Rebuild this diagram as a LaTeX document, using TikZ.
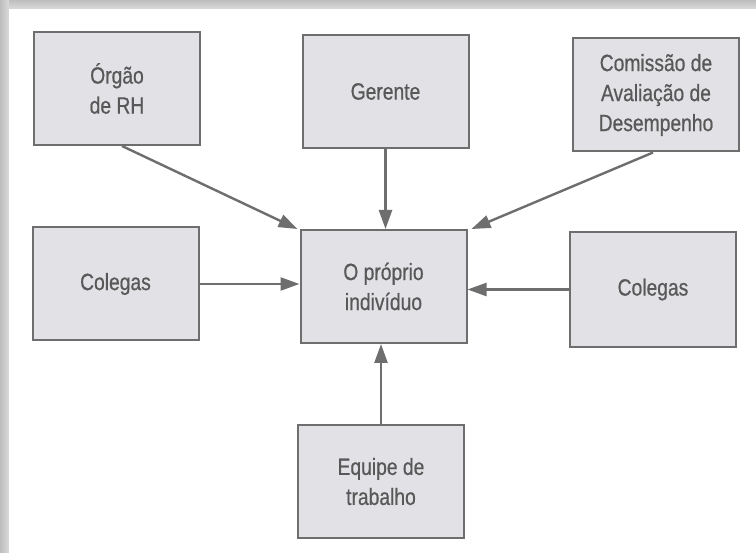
\documentclass[tikz,border=0pt]{standalone}
\usepackage{fontspec}
\setmainfont{Liberation Sans}[FakeStretch=0.82,FakeBold=0.6]
\usetikzlibrary{arrows.meta}
\definecolor{boxfill}{HTML}{E2E2E6}
\definecolor{boxline}{HTML}{6E6E6E}
\definecolor{txt}{HTML}{585858}
\definecolor{bandA}{HTML}{BEBEBE}
\definecolor{bandB}{HTML}{DADADA}
\begin{document}
\begin{tikzpicture}[x=1pt,y=-1pt,
  box/.style={draw=boxline,line width=2pt,fill=boxfill,rectangle,
    minimum width=166pt,minimum height=113pt,inner sep=0pt,
    align=center,text=txt,font=\fontsize{23.5}{30}\selectfont},
  conn/.style={draw=boxline,line width=2.4pt,
    -{Triangle[length=19pt,width=13pt]}}]
\useasboundingbox (0,0) rectangle (756,553);
\fill[white] (0,0) rectangle (756,553);
\shade[top color=bandA,bottom color=bandB] (0,0) rectangle (756,9);
\shade[left color=bandA,right color=bandB] (0,0) rectangle (9,553);
\fill[white] (9,9) rectangle (756,553);
\node[box] (orgao) at (117,88.5) {Órgão\\de RH};
\node[box] (gerente) at (385.5,91.5) {Gerente};
\node[box] (comissao) at (656,95) {Comissão de\\Avaliação de\\Desempenho};
\node[box] (colL) at (115.5,284) {Colegas};
\node[box] (centro) at (383.5,286.5) {O próprio\\indivíduo};
\node[box,minimum height=115pt] (colR) at (653,289.5) {Colegas};
\node[box] (equipe) at (381,481.5) {Equipe de\\trabalho};
\draw[conn] ([xshift=5pt]orgao.south) -- ([xshift=-2pt]centro.north west);
\draw[conn] (gerente.south) -- (gerente.south |- centro.north);
\draw[conn] ([xshift=-3pt]comissao.south) -- ([xshift=4pt]centro.north east);
\draw[conn] (colL.east) -- (colL.east -| centro.west);
\draw[conn] (colR.west) -- (colR.west -| centro.east);
\draw[conn] (equipe.north) -- (equipe.north |- centro.south);
\end{tikzpicture}
\end{document}
